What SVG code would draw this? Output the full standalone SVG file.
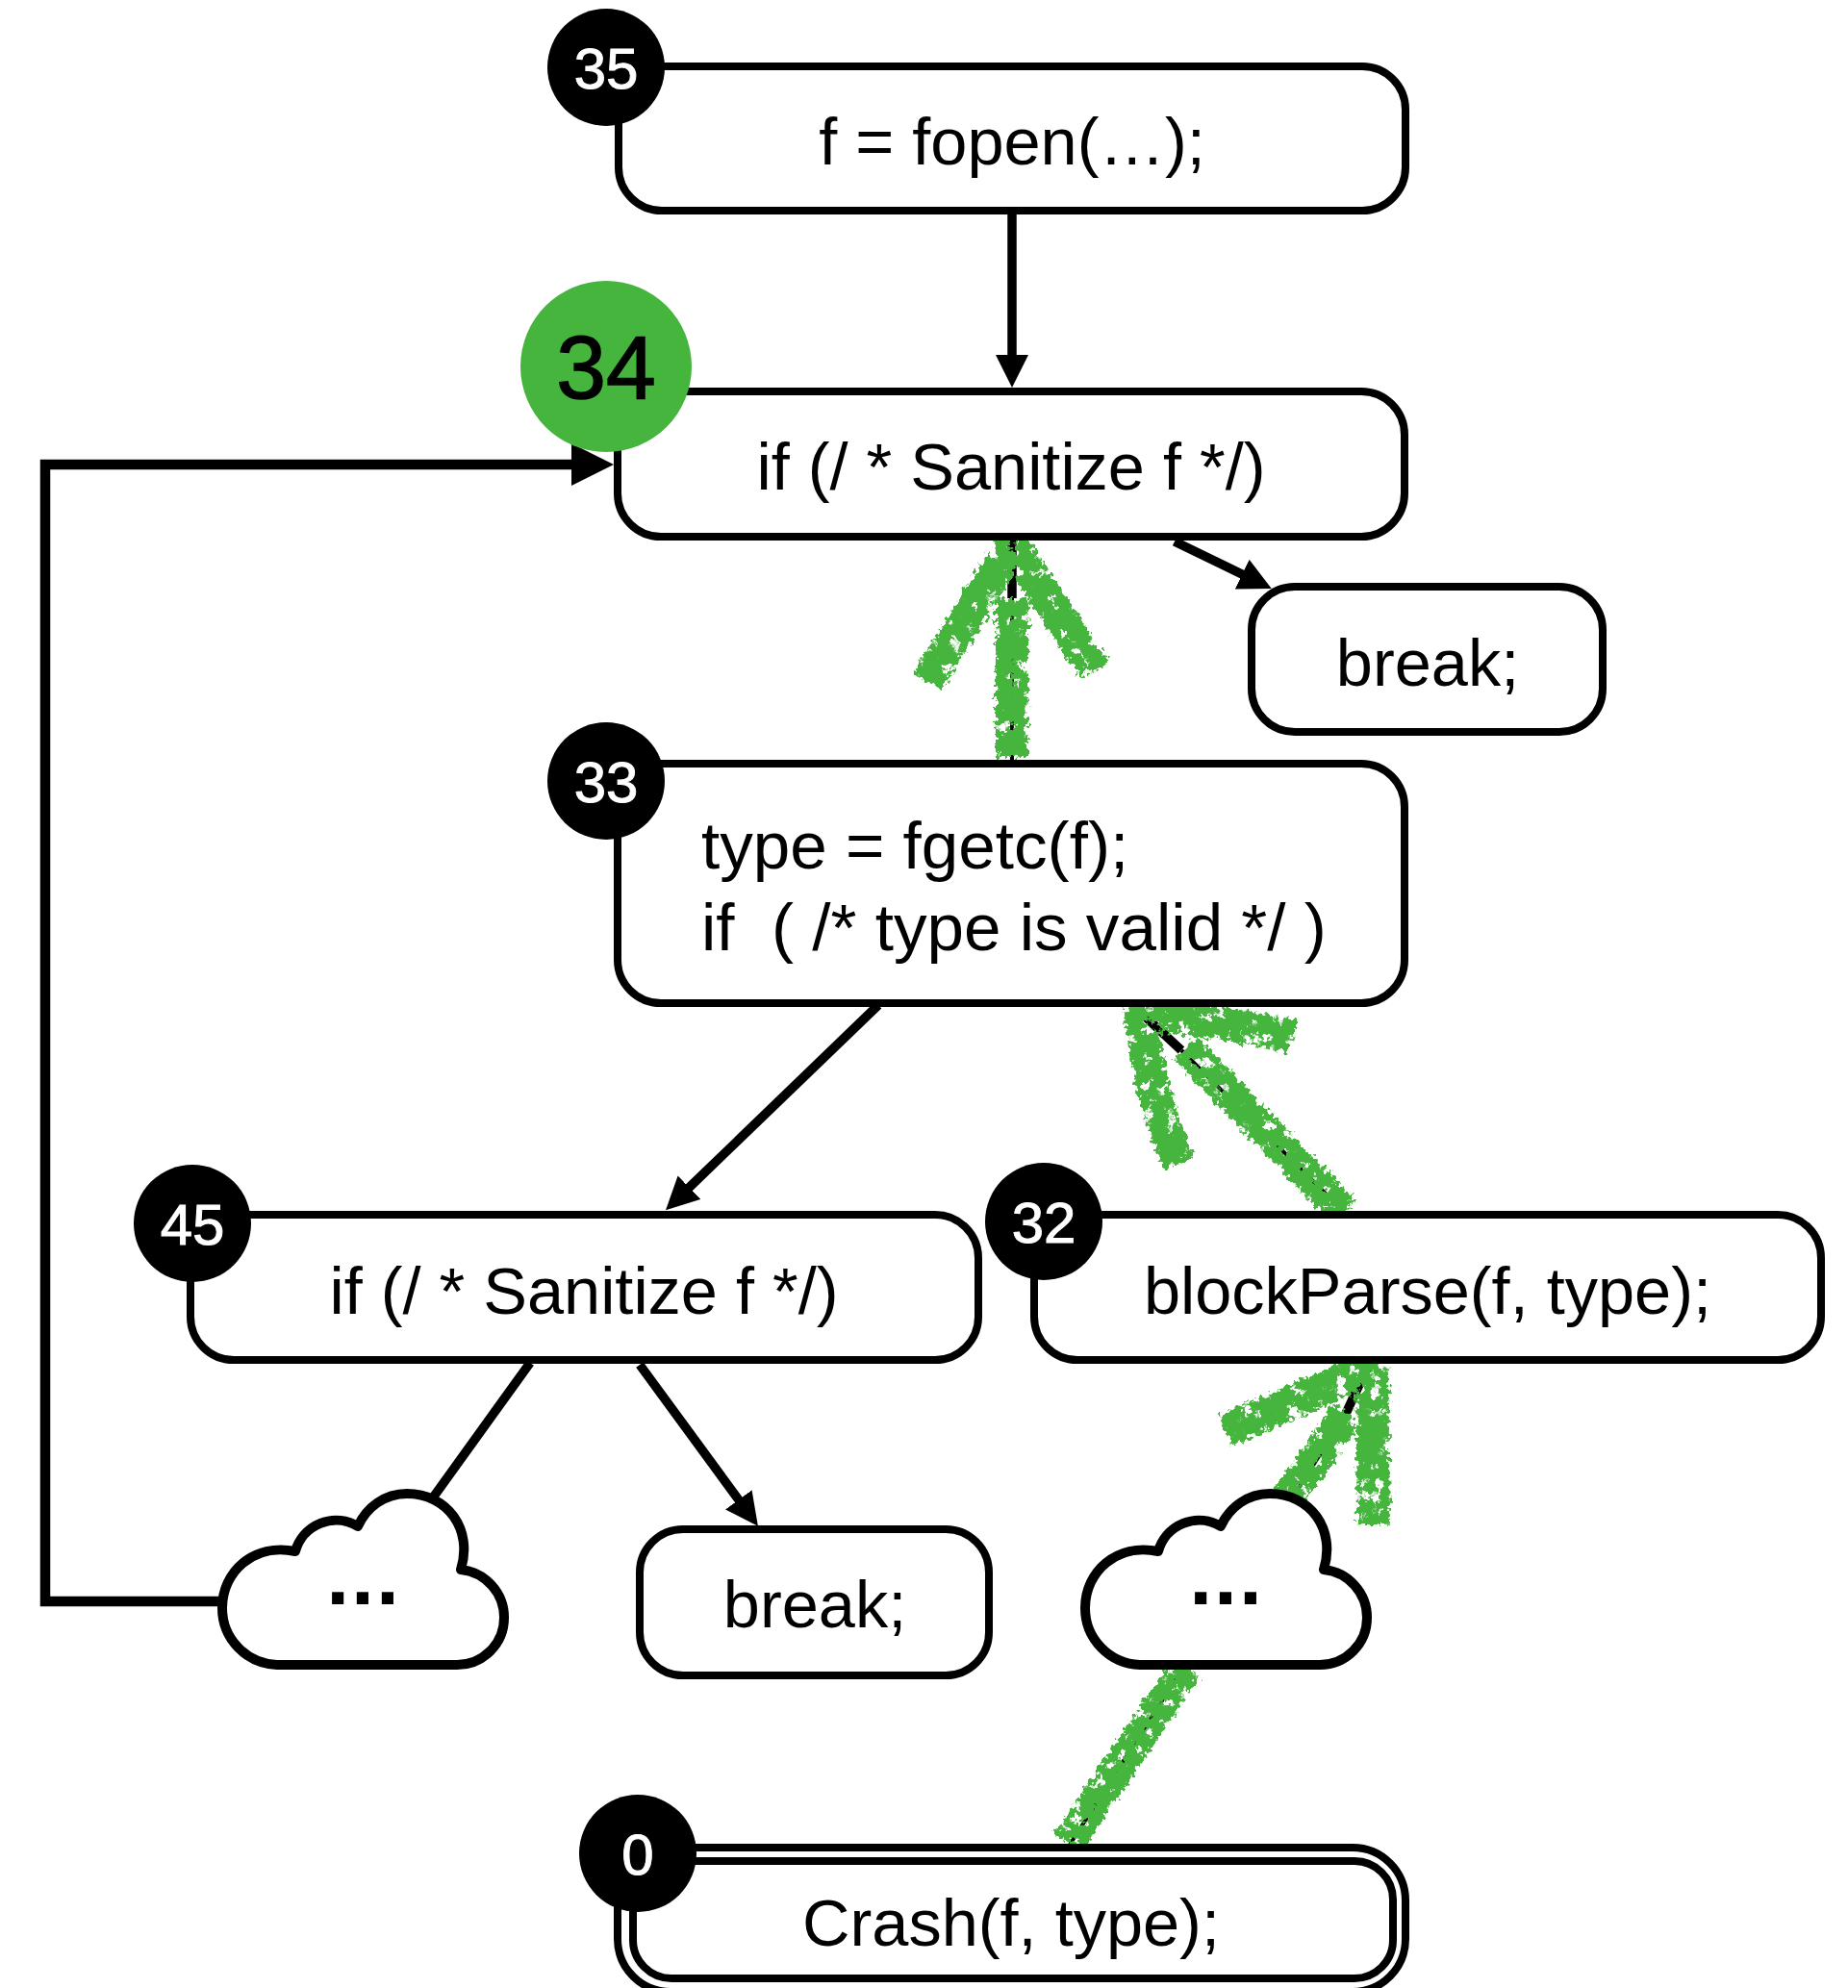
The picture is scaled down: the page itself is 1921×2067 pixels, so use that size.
<svg xmlns="http://www.w3.org/2000/svg" width="1921" height="2067" viewBox="0 0 1921 2067">
<style>
.b{fill:#fff;stroke:#000;stroke-width:8}
.c{fill:#fff;stroke:#000;stroke-width:10;stroke-linejoin:round}
.t{font-family:"Liberation Sans",Arial,sans-serif;font-size:68.5px;fill:#000;text-anchor:middle}
.l{text-anchor:start;font-size:69.2px}
.n{font-family:"Liberation Sans",Arial,sans-serif;font-size:60px;fill:#fff;stroke:#fff;stroke-width:1;text-anchor:middle}
.d{font-family:"Liberation Sans",Arial,sans-serif;font-size:86px;font-weight:bold;letter-spacing:2px;fill:#000;text-anchor:middle}
.e{fill:none;stroke:#000;stroke-width:9.5}
.s{fill:none;stroke:#000;stroke-width:4}
.g{fill:none;stroke:#46b53e;stroke-width:34;stroke-linecap:butt;stroke-linejoin:miter}
</style>
<defs>
<marker id="a" markerUnits="userSpaceOnUse" markerWidth="36" markerHeight="34" refX="2" refY="17" orient="auto"><path d="M0 0L34 17L0 34z" fill="#000"/></marker>
<marker id="a2" markerUnits="userSpaceOnUse" markerWidth="46" markerHeight="44" refX="2" refY="22" orient="auto"><path d="M0 0L44 22L0 44z" fill="#000"/></marker>
<filter id="r" x="-20%" y="-20%" width="140%" height="140%" filterUnits="objectBoundingBox" color-interpolation-filters="sRGB">
<feTurbulence type="fractalNoise" baseFrequency="0.08" numOctaves="2" seed="4" result="n"/>
<feColorMatrix in="n" type="matrix" values="0 0 0 0 0 0 0 0 0 0 0 0 0 0 0 0 0 0 -14 5.3" result="h"/>
<feComposite in="SourceGraphic" in2="h" operator="out" result="s"/>
<feTurbulence type="fractalNoise" baseFrequency="0.2" numOctaves="2" seed="9" result="m"/>
<feDisplacementMap in="s" in2="m" scale="14" xChannelSelector="R" yChannelSelector="G"/>
</filter>
<path id="cloud" d="M288 1731H475A49 49 0 0 0 524 1682A50 50 0 0 0 479 1632C492 1590 465 1553 423 1553C400 1553 381 1567 372 1587A44 44 0 0 0 307 1613C264 1604 231 1634 231 1672A59 59 0 0 0 288 1731Z"/>
</defs>
<rect width="1921" height="2067" fill="#fff"/>
<g id="connectors">
<path class="e" d="M1052 221V371" marker-end="url(#a)"/>
<path class="e" style="stroke-width:10.5" d="M231 1665H47V483H596" marker-end="url(#a2)"/>
<path class="e" d="M1221 563L1293 598" marker-end="url(#a)"/>
<path class="e" d="M913 1045L715 1236" marker-end="url(#a)"/>
<path class="e" d="M551 1417L448 1560"/>
<path class="e" d="M665 1419L769 1561" marker-end="url(#a)"/>
<path class="e" d="M1052 560V622"/>
<path class="s" d="M1052 622V790"/>
<path class="e" d="M1185 1052L1228 1092"/>
<path class="s" d="M1228 1092L1395 1258"/>
<path class="e" d="M1422 1420L1398 1472"/>
<path class="s" d="M1112 1918L1398 1472"/>
</g>
<g id="arrows-green" filter="url(#r)">
<path class="g" d="M964 708L1052 566L1138 697"/>
<path class="g" d="M1052 787V623"/>
<path class="g" d="M1345 1078C1270 1062 1225 1058 1186 1055C1190 1110 1205 1160 1226 1210"/>
<path class="g" d="M1397 1260L1232 1090"/>
<path class="g" d="M1274 1487L1426 1422L1428 1585"/>
<path class="g" d="M1400 1470L1330 1570"/>
<path class="g" d="M1233 1734L1110 1916"/>
</g>
<g id="n35"><rect class="b" x="643" y="69" width="818" height="150" rx="45"/><text class="t" x="1052" y="171">f = fopen(…);</text><circle cx="630" cy="70" r="61"/><text class="n" x="630" y="92">35</text></g>
<g id="n34"><rect class="b" x="642" y="407" width="818" height="151" rx="45"/><text class="t" x="1051" y="509">if (/ * Sanitize f */)</text><circle cx="630" cy="381" r="89" fill="#46b53e"/><text x="630" y="414" font-family="Liberation Sans,Arial,sans-serif" font-size="93" stroke="#000" stroke-width="1.5" text-anchor="middle">34</text></g>
<g id="nbreak1"><rect class="b" x="1301" y="610" width="365" height="151" rx="45"/><text class="t" x="1484" y="713">break;</text></g>
<g id="n33"><rect class="b" x="642" y="794" width="818" height="249" rx="45"/><text class="t l" x="729" y="903">type = fgetc(f);</text><text class="t l" x="729" y="988" xml:space="preserve">if  ( /* type is valid */ )</text><circle cx="630" cy="812" r="61"/><text class="n" x="630" y="834">33</text></g>
<g id="n45"><rect class="b" x="198" y="1263" width="819" height="151" rx="45"/><text class="t" x="607" y="1366">if (/ * Sanitize f */)</text><circle cx="200" cy="1272" r="61"/><text class="n" x="200" y="1294">45</text></g>
<g id="n32"><rect class="b" x="1075" y="1263" width="818" height="151" rx="45"/><text class="t" x="1484" y="1366">blockParse(f, type);</text><circle cx="1085" cy="1270" r="61"/><text class="n" x="1085" y="1292">32</text></g>
<g id="cloud1"><use href="#cloud" class="c"/><text class="d" x="378" y="1668">...</text></g>
<g id="nbreak2"><rect class="b" x="665" y="1590" width="363" height="152" rx="45"/><text class="t" x="847" y="1692">break;</text></g>
<g id="cloud2"><use href="#cloud" class="c" x="897"/><text class="d" x="1275" y="1668">...</text></g>
<g id="n0"><rect class="b" x="642" y="1921" width="819" height="150" rx="55"/><rect class="b" x="658" y="1935" width="790" height="122" rx="40"/><text class="t" x="1051" y="2023">Crash(f, type);</text><circle cx="663" cy="1927" r="61"/><text class="n" x="663" y="1949">0</text></g>
</svg>
